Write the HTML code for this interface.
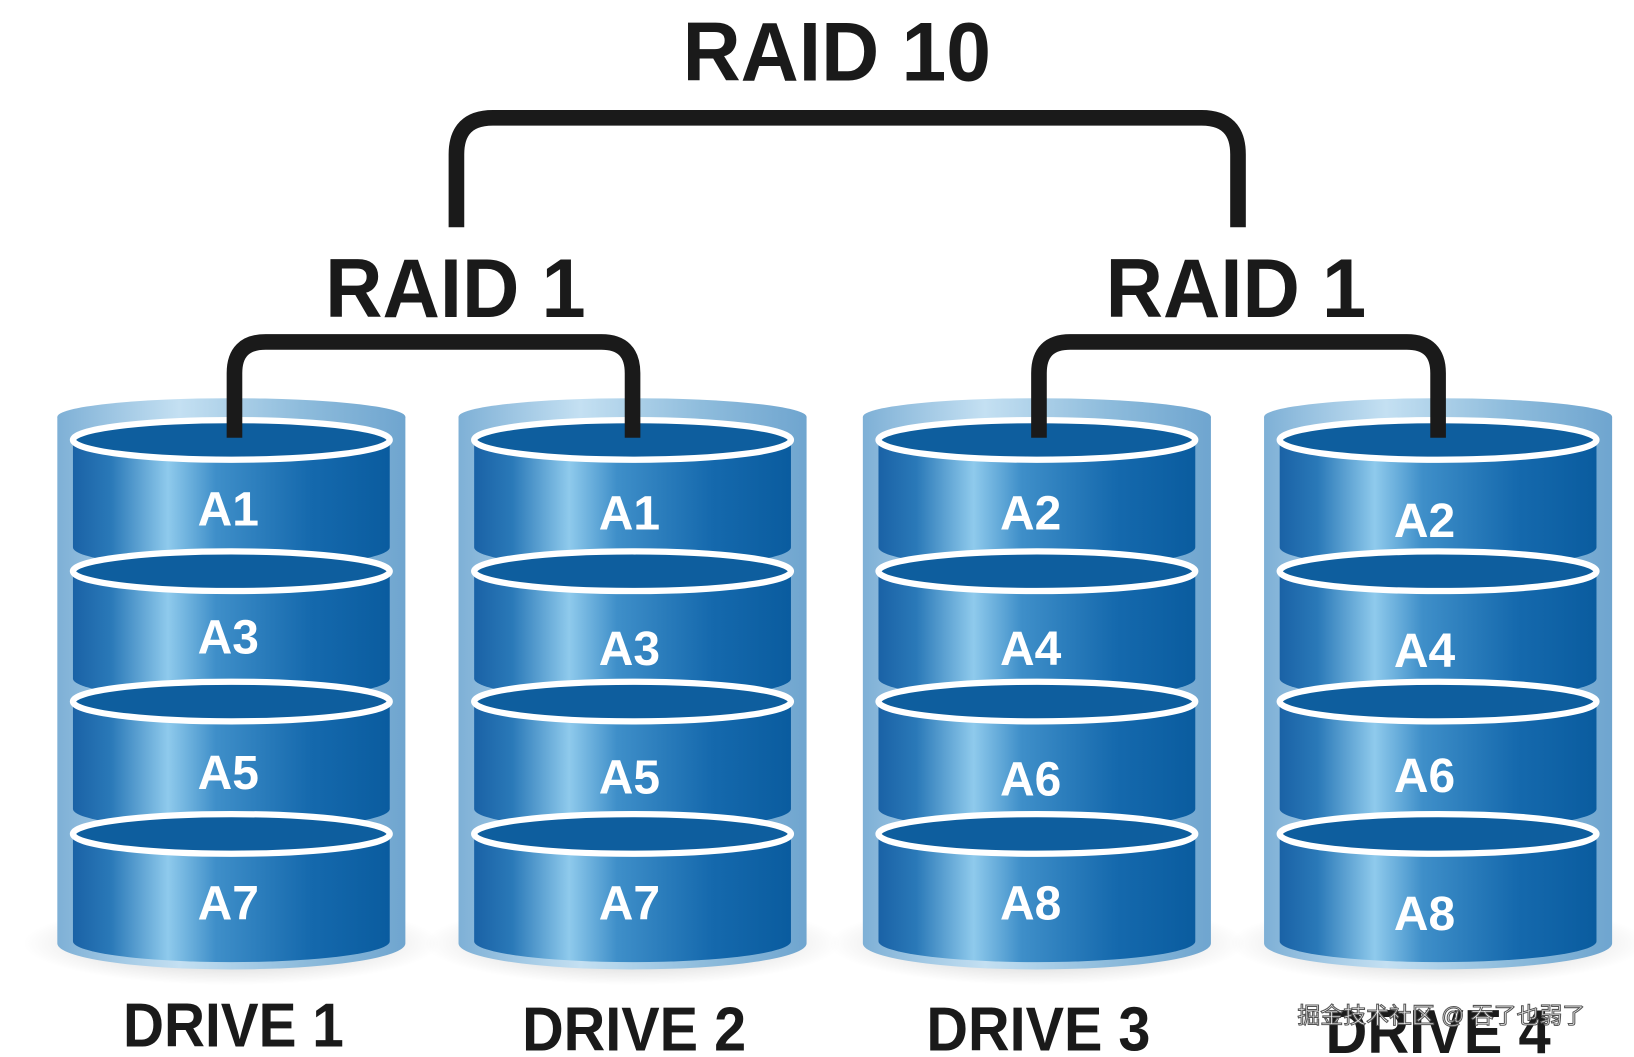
<!DOCTYPE html>
<html><head><meta charset="utf-8"><style>
html,body{margin:0;padding:0;background:#fff;}
svg{display:block;}
text{font-family:"Liberation Sans",sans-serif;font-weight:bold;}
</style></head><body>
<svg width="1634" height="1057" viewBox="0 0 1568 1014" preserveAspectRatio="none" xmlns="http://www.w3.org/2000/svg">
<defs>
<linearGradient id="side" x1="0" x2="1" y1="0" y2="0">
<stop offset="0" stop-color="#1a62a6"/>
<stop offset="0.12" stop-color="#2a79b8"/>
<stop offset="0.3" stop-color="#8fcaec"/>
<stop offset="0.45" stop-color="#3f8fc9"/>
<stop offset="0.75" stop-color="#1569ad"/>
<stop offset="1" stop-color="#0a5c9f"/>
</linearGradient>
<linearGradient id="shell" x1="0" x2="1" y1="0" y2="0">
<stop offset="0" stop-color="#7eb0d6"/>
<stop offset="0.35" stop-color="#c4e0f2"/>
<stop offset="0.7" stop-color="#8ebcdc"/>
<stop offset="1" stop-color="#6fa5cf"/>
</linearGradient>
<radialGradient id="shadow" cx="0.5" cy="0.5" r="0.5">
<stop offset="0" stop-color="#000" stop-opacity="0.25"/>
<stop offset="1" stop-color="#000" stop-opacity="0"/>
</radialGradient>
<g id="platter">
<path d="M-152,0 V103 A152,20 0 0 0 152,103 V0 Z" fill="url(#side)"/>
<ellipse cx="0" cy="0" rx="152" ry="19" fill="#0e5e9e" stroke="#fff" stroke-width="6"/>
</g>
<g id="drive">
<ellipse cx="0" cy="905" rx="200" ry="40" fill="url(#shadow)"/>
<path d="M-167,400 V905 A167,25 0 0 0 167,905 V400 Z" fill="url(#shell)"/>
<ellipse cx="0" cy="400" rx="167" ry="18" fill="url(#shell)"/>
<use href="#platter" y="422"/>
<use href="#platter" y="548"/>
<use href="#platter" y="673"/>
<use href="#platter" y="800"/>
</g>
</defs>
<use href="#drive" x="222"/>
<use href="#drive" x="607"/>
<use href="#drive" x="995"/>
<use href="#drive" x="1380"/>
<g fill="none" stroke="#1a1a1a" stroke-width="15">
<path d="M438,218 V148 Q438,113 473,113 H1153 Q1188,113 1188,148 V218"/>
<path d="M225,420 V358 Q225,328 255,328 H577 Q607,328 607,358 V420"/>
<path d="M997,420 V358 Q997,328 1027,328 H1350 Q1380,328 1380,358 V420"/>
</g>
<g fill="#1a1a1a">
<text x="655" y="77" font-size="80" textLength="296" lengthAdjust="spacingAndGlyphs">RAID 10</text>
<text x="312" y="304" font-size="80" textLength="250" lengthAdjust="spacingAndGlyphs">RAID 1</text>
<text x="1061" y="304" font-size="80" textLength="250" lengthAdjust="spacingAndGlyphs">RAID 1</text>
<text x="118" y="1004" font-size="60" textLength="212" lengthAdjust="spacingAndGlyphs">DRIVE 1</text>
<text x="501" y="1008" font-size="60" textLength="215" lengthAdjust="spacingAndGlyphs">DRIVE 2</text>
<text x="889" y="1008" font-size="60" textLength="215" lengthAdjust="spacingAndGlyphs">DRIVE 3</text>
<text x="1272" y="1010" font-size="60" textLength="216" lengthAdjust="spacingAndGlyphs">DRIVE 4</text>
</g>
<g fill="#fff" font-size="46" text-anchor="middle">
<text x="219" y="504">A1</text><text x="219" y="627">A3</text><text x="219" y="757">A5</text><text x="219" y="882">A7</text>
<text x="604" y="508">A1</text><text x="604" y="638">A3</text><text x="604" y="761">A5</text><text x="604" y="882">A7</text>
<text x="989" y="508">A2</text><text x="989" y="638">A4</text><text x="989" y="763">A6</text><text x="989" y="882">A8</text>
<text x="1367" y="515">A2</text><text x="1367" y="640">A4</text><text x="1367" y="760">A6</text><text x="1367" y="892">A8</text>
</g>
<text x="1245" y="982" font-size="22" fill="#fff" stroke="#555" stroke-width="1" style="font-family:'Liberation Sans','Noto Sans CJK SC',sans-serif;font-weight:normal">掘金技术社区 @ 吞了也弱了</text>
</svg>
</body></html>
